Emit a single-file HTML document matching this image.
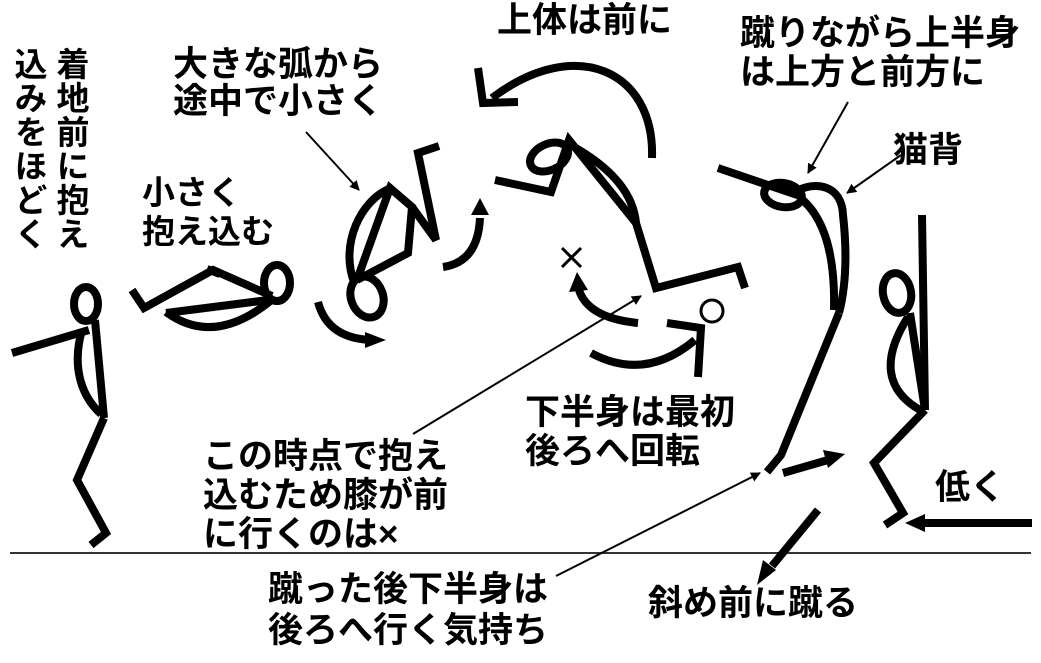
<!DOCTYPE html>
<html><head><meta charset="utf-8"><style>
html,body{margin:0;padding:0;background:#fff;}
body{width:1041px;height:663px;position:relative;overflow:hidden;font-family:"Liberation Sans","Noto Sans CJK JP",sans-serif;color:#000;}
.t{position:absolute;font-size:35px;line-height:37px;white-space:nowrap;font-weight:bold;}
.v{writing-mode:vertical-rl;line-height:38px;font-size:33px;letter-spacing:1px;}
svg{position:absolute;left:0;top:0;}
</style></head><body>
<svg width="1041" height="663" viewBox="0 0 1041 663">
<defs>
<marker id="ah" markerWidth="10" markerHeight="10" refX="9" refY="5" orient="auto" markerUnits="userSpaceOnUse"><path d="M0,0 L10,5 L0,10 z" fill="#000"/></marker>
</defs>
<line x1="10" y1="553" x2="1031" y2="553" stroke="#333" stroke-width="2"/>
<g fill="none" stroke="#000" stroke-width="8" stroke-linejoin="miter">
<ellipse cx="86" cy="304" rx="12" ry="17"/>
<line x1="12" y1="353" x2="89" y2="330"/>
<line x1="95" y1="320" x2="104" y2="418"/>
<path d="M82,330 C72,365 80,395 101,414"/>
<polyline points="104,418 77,480 106,533 91,545"/>
<ellipse cx="277" cy="283" rx="13" ry="18"/>
<polyline points="132,290 144,308 213,270 272,296"/>
<line x1="207" y1="269" x2="220" y2="274"/>
<line x1="166" y1="313" x2="268" y2="300"/>
<path d="M166,312 Q215,348 274,298"/>
<ellipse cx="367" cy="297" rx="16" ry="21" transform="rotate(-20 367 297)"/>
<path d="M354,282 C340,245 360,200 391,188"/>
<polyline points="357,280 390,188 412,207 408,253 357,280"/>
<polyline points="412,207 436,240 418,153 439,146"/>
<path d="M318,302 Q328,340 375,340" />
<path d="M443,267 Q478,262 480,218"/>
<ellipse cx="549" cy="157" rx="20" ry="13" transform="rotate(-25 549 157)"/>
<polyline points="495,180 551,192 569,140 636,223 656,288 738,267 745,288"/>
<path d="M574,147 Q632,180 636,223"/>
<path d="M652,158 C655,70 575,35 492,98"/>
<polyline points="478,68 483,103 518,102"/>
<path d="M638,323 Q588,318 579,290"/>
<path d="M591,353 Q645,382 695,340"/>
<polyline points="667,323 701,328 698,377"/>
<ellipse cx="783" cy="195" rx="19" ry="12" transform="rotate(10 783 195)"/>
<line x1="718" y1="168" x2="803" y2="197"/>
<path d="M795,192 C815,180 842,185 843,215 C848,260 845,290 839,313"/>
<path d="M799,197 Q836,225 834,310"/>
<polyline points="839,313 781,455 767,472"/>
<line x1="783" y1="473" x2="828" y2="460"/>
<line x1="818" y1="510" x2="772" y2="566"/>
<line x1="922" y1="215" x2="925" y2="410"/>
<ellipse cx="897" cy="293" rx="14" ry="20" transform="rotate(-10 897 293)"/>
<path d="M908,317 Q868,380 920,410"/>
<line x1="910" y1="313" x2="925" y2="410"/>
<polyline points="925,410 874,463 903,513 885,525"/>
<line x1="1032" y1="523" x2="925" y2="523"/>
</g>
<g fill="#000">
<polygon points="365,332 386,340 365,348"/>
<polygon points="471,215 480,198 489,215"/>
<polygon points="569,292 577,272 588,290"/>
<polygon points="823,450 845,454 828,468"/>
<polygon points="763,560 757,585 776,570"/>
<polygon points="925,514 905,523 925,532"/>
</g>
<g stroke="#000" stroke-width="2" fill="none">
<line x1="306" y1="132" x2="359" y2="190" marker-end="url(#ah)"/>
<line x1="413" y1="434" x2="641" y2="296" marker-end="url(#ah)"/>
<line x1="556" y1="576" x2="760" y2="473" marker-end="url(#ah)"/>
<line x1="848" y1="102" x2="808" y2="173" marker-end="url(#ah)"/>
<line x1="901" y1="155" x2="847" y2="193" marker-end="url(#ah)"/>
</g>
<circle cx="712" cy="311" r="11" fill="none" stroke="#000" stroke-width="3"/>
<g stroke="#000" stroke-width="3"><line x1="562" y1="248" x2="581" y2="267"/><line x1="581" y1="248" x2="562" y2="267"/></g>
</svg>
<div class="t v" style="left:51px;top:47px;">着地前に抱え</div>
<div class="t v" style="left:9px;top:47px;">込みをほどく</div>
<div class="t" style="left:173px;top:46px;">大きな弧から<br>途中で小さく</div>
<div class="t" style="left:142px;top:173px;font-size:33px;line-height:39px;">小さく<br>抱え込む</div>
<div class="t" style="left:497px;top:2px;">上体は前に</div>
<div class="t" style="left:740px;top:14px;line-height:39px;">蹴りながら上半身<br>は上方と前方に</div>
<div class="t" style="left:893px;top:132px;">猫背</div>
<div class="t" style="left:525px;top:393px;line-height:39px;">下半身は最初<br>後ろへ回転</div>
<div class="t" style="left:203px;top:437px;line-height:39px;">この時点で抱え<br>込むため膝が前<br>に行くのは×</div>
<div class="t" style="left:935px;top:469px;">低く</div>
<div class="t" style="left:268px;top:569px;line-height:41px;">蹴った後下半身は<br>後ろへ行く気持ち</div>
<div class="t" style="left:648px;top:585px;">斜め前に蹴る</div>
</body></html>
